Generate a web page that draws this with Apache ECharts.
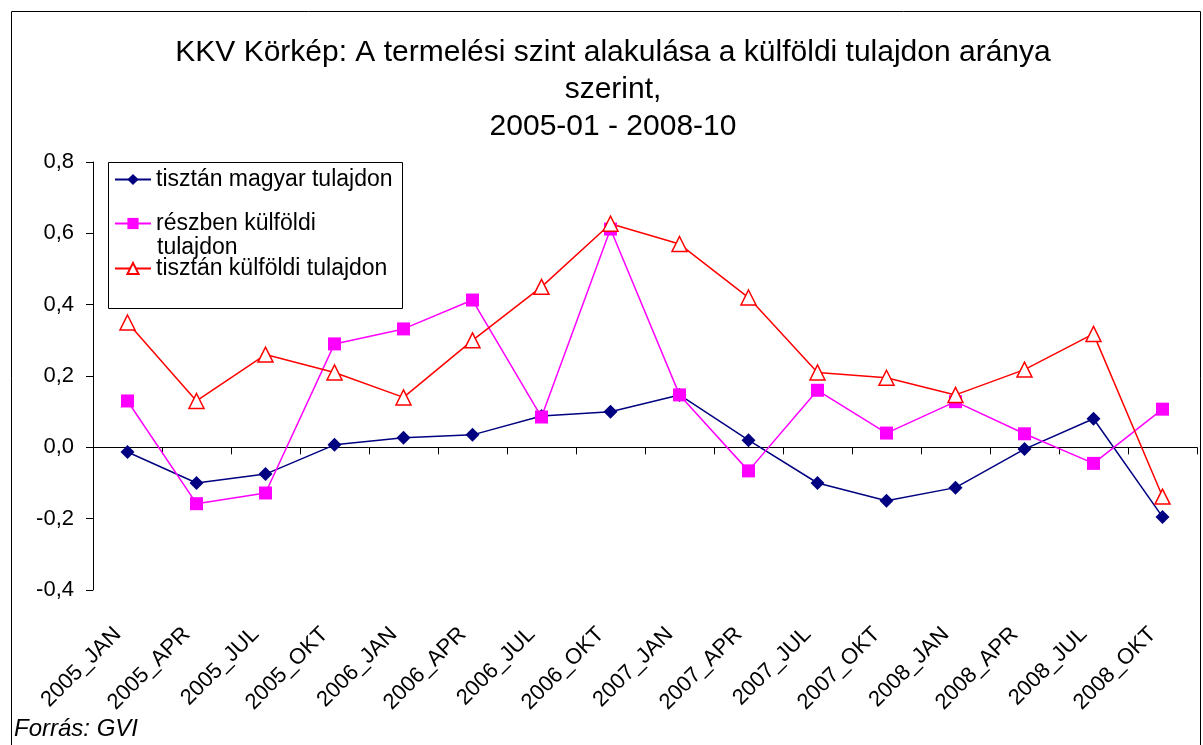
<!DOCTYPE html>
<html lang="hu">
  <head>
    <meta charset="UTF-8" />
    <script src="https://cdn.jsdelivr.net/npm/echarts@6/dist/echarts.min.js"></script>
    <title>KKV Körkép</title>
    <style>
      html, body { margin: 0; padding: 0; background: #fff; }
      #app { width: 1203px; height: 745px; }
    </style>
  </head>
  <body>
    <div id="app"></div>
    <script>
      const categories = [
        "2005_JAN", "2005_APR", "2005_JUL", "2005_OKT",
        "2006_JAN", "2006_APR", "2006_JUL", "2006_OKT",
        "2007_JAN", "2007_APR", "2007_JUL", "2007_OKT",
        "2008_JAN", "2008_APR", "2008_JUL", "2008_OKT",
      ];
      // tisztán magyar tulajdon
      const magyar = [-0.013, -0.1, -0.075, 0.007, 0.027, 0.035, 0.088, 0.1,
        0.147, 0.02, -0.1, -0.15, -0.113, -0.005, 0.08, -0.195];
      // részben külföldi tulajdon
      const reszben = [0.13, -0.158, -0.128, 0.29, 0.332, 0.413, 0.085, 0.612,
        0.147, -0.066, 0.16, 0.04, 0.128, 0.038, -0.045, 0.107];
      // tisztán külföldi tulajdon
      const kulfoldi = [0.35, 0.13, 0.26, 0.21, 0.14, 0.3, 0.45, 0.627,
        0.57, 0.42, 0.21, 0.195, 0.147, 0.218, 0.318, -0.138];

      const font = "Liberation Sans, Arial, sans-serif";
      const chart = echarts.init(document.getElementById("app"));

      const legendBase = {
        orient: "vertical",
        itemWidth: 36,
        itemHeight: 14,
        itemGap: 0,
        textStyle: { fontFamily: font, fontSize: 23, color: "#000" },
        selectedMode: false,
      };

      chart.setOption({
        animation: false,
        title: {
          text: "KKV Körkép: A termelési szint alakulása a külföldi tulajdon aránya\nszerint,\n2005-01 - 2008-10",
          left: 608,
          textAlign: "center",
          top: 29,
          textStyle: {
            fontFamily: font,
            fontSize: 30,
            fontWeight: "normal",
            color: "#000",
            lineHeight: 37,
          },
        },
        legend: [
          Object.assign({}, legendBase, { data: ["tisztán magyar tulajdon"], left: 109, top: 163 }),
          Object.assign({}, legendBase, {
            data: ["részben külföldi tulajdon"], left: 109, top: 207,
            formatter: () => "részben külföldi",
          }),
          Object.assign({}, legendBase, { data: ["tisztán külföldi tulajdon"], left: 109, top: 252 }),
        ],
        graphic: [
          {
            type: "rect",
            shape: { x: 11.5, y: 11.5, width: 1189, height: 745 },
            style: { fill: "none", stroke: "#000", lineWidth: 1 },
            silent: true,
          },
          {
            type: "rect",
            shape: { x: 108.5, y: 162.5, width: 294, height: 146 },
            style: { fill: "none", stroke: "#000", lineWidth: 1 },
            silent: true,
            z: 10,
          },
          {
            type: "text",
            left: 157,
            top: 236,
            style: { text: "tulajdon", font: "23px " + font, fill: "#000" },
            z: 10,
          },
          {
            type: "text",
            left: 14,
            top: 717,
            style: { text: "Forrás: GVI", font: "italic 24px " + font, fill: "#000" },
          },
        ],
        grid: { left: 93, right: 6, top: 162, bottom: 155, containLabel: false },
        xAxis: {
          type: "category",
          data: categories,
          boundaryGap: true,
          axisLine: { lineStyle: { color: "#000", width: 1 } },
          axisTick: { show: true, length: 7, lineStyle: { color: "#000" } },
          axisLabel: {
            rotate: 45,
            margin: 31,
            padding: [0, 14, 0, 0],
            interval: 0,
            fontFamily: font,
            fontSize: 22,
            color: "#000",
          },
          splitLine: { show: false },
        },
        yAxis: {
          type: "value",
          min: -0.4,
          max: 0.8,
          interval: 0.2,
          axisLine: { show: true, lineStyle: { color: "#000", width: 1 } },
          axisTick: { show: true, length: 7, lineStyle: { color: "#000" } },
          axisLabel: {
            margin: 19,
            fontFamily: font,
            fontSize: 22,
            color: "#000",
            formatter: (v) => v.toFixed(1).replace(".", ",").replace("-0,0", "0,0"),
          },
          splitLine: { show: false },
        },
        series: [
          {
            name: "tisztán magyar tulajdon",
            type: "line",
            data: magyar,
            symbol: "diamond",
            symbolSize: 14,
            itemStyle: { color: "#000080" },
            lineStyle: { color: "#000080", width: 1.5 },
          },
          {
            name: "részben külföldi tulajdon",
            type: "line",
            data: reszben,
            symbol: "rect",
            symbolSize: 13,
            itemStyle: { color: "#FF00FF" },
            lineStyle: { color: "#FF00FF", width: 1.5 },
          },
          {
            name: "tisztán külföldi tulajdon",
            type: "line",
            data: kulfoldi,
            symbol: "triangle",
            symbolSize: 15,
            itemStyle: { color: "#fff", borderColor: "#FF0000", borderWidth: 1.5 },
            lineStyle: { color: "#FF0000", width: 1.5 },
          },
        ],
      });
    </script>
  </body>
</html>
